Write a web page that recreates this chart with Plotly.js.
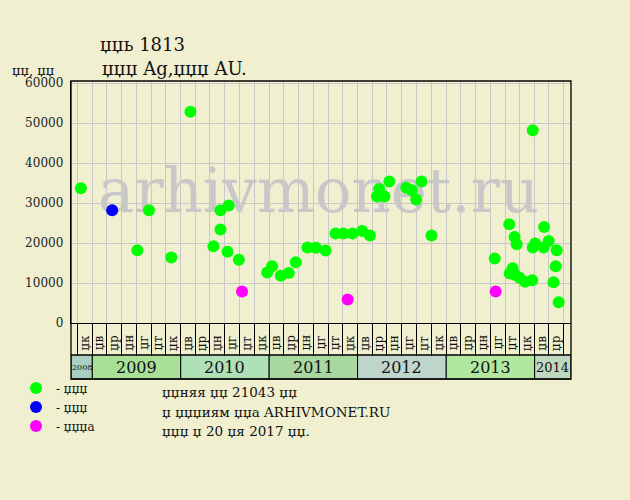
<!DOCTYPE html>
<html>
<head>
<meta charset="utf-8">
<script src="https://cdn.plot.ly/plotly-3.0.1.min.js"></script>
<style>
  html, body { margin: 0; padding: 0; background: #f0efd0; }
  #chart { width: 630px; height: 500px; }
</style>
</head>
<body>
<div id="chart"></div>
<script>
// ---------- data ----------
const titleLine1 = 'џџь 1813';
const titleLine2 = 'џџџ Ag,џџџ AU.';
const yUnit = 'џџ, џџ';
const seriesNames = ['- џџџ', '- џџџ', '- џџџа'];
const noteLines = ['џџняя џџ 21043 џџ', 'џ џџџиям џџа ARHIVMONET.RU', 'џџџ џ 20 џя 2017 џџ.'];
const watermark = 'arhivmonet.ru';

const greenDates = [
  '2008-11-15','2009-07-06','2009-08-23','2009-11-23','2010-02-10','2010-05-16',
  '2010-06-14','2010-06-14','2010-07-13','2010-07-18','2010-08-29','2010-12-24',
  '2011-01-13','2011-02-18','2011-03-23','2011-04-21','2011-06-08','2011-07-13',
  '2011-08-22','2011-10-02','2011-11-03','2011-12-11','2012-01-20','2012-02-21',
  '2012-03-21','2012-03-30','2012-04-21','2012-05-11','2012-07-20','2012-08-12',
  '2012-08-30','2012-09-21','2012-11-01','2013-07-20','2013-09-18','2013-09-20',
  '2013-10-02','2013-10-10','2013-10-13','2013-10-19','2013-10-31','2013-11-22',
  '2013-12-22','2013-12-24','2013-12-24','2014-01-03','2014-02-07','2014-02-09',
  '2014-02-28','2014-03-20','2014-03-29','2014-04-02','2014-04-10'
];
const greenValues = [
  33700,18200,28200,16400,52800,19200,
  28200,23400,17800,29400,15800,12600,
  14200,11800,12500,15200,18900,18800,
  18100,22400,22400,22400,23000,21900,
  31600,33500,31600,35400,33800,33200,
  30900,35400,21900,16100,24700,12400,
  13700,21500,12000,19700,11300,10300,
  10700,48200,18900,19900,18900,24000,
  20500,10200,14200,18200,5200
];
const blueDates = ['2009-03-24'];
const blueValues = [28200];
const magentaDates = ['2010-09-11','2011-11-21','2013-07-24'];
const magentaValues = [7900,5900,7900];

// bimonthly period labels (periods Jan-Feb, Mar-Apr, ..., Nov-Dec)
const periodLabels = ['џв','џр','џн','џг','џт','џк'];
const firstPeriodStart = '2008-11-01';
const lastPeriodStart = '2014-03-01';
const years = ['2008','2009','2010','2011','2012','2013','2014'];
const yearColors = ['#a8d0c0','#a8e098','#b0e0b8','#a8d8a0','#c0d6cc','#b0e8a0','#c0d8c0'];
const yearFontSizes = [8,16,16,16,16,16,13];
const yTicks = [0,10000,20000,30000,40000,50000,60000];

// ---------- layout helpers ----------
const xStart = '2008-10-05', xEnd = '2014-05-31';
const plotH = 242;
const labelRowBottom = -32 / plotH;
const yearRowBottom = -56 / plotH;
const serif = 'DejaVu Serif, serif';
const pyToPaper = py => (323 - py) / plotH;
const pxToPaper = px => (px - 71) / 500;
const iso = d => d.toISOString().slice(0,10);

const shapes = [];
const annotations = [];

// period labels in the label row
{
  let d = new Date(firstPeriodStart + 'T00:00:00Z');
  const last = new Date(lastPeriodStart + 'T00:00:00Z');
  while (d <= last) {
    const e = new Date(Date.UTC(d.getUTCFullYear(), d.getUTCMonth() + 2, 1));
    const mid = new Date((d.getTime() + e.getTime()) / 2);
    const label = periodLabels[Math.floor(d.getUTCMonth() / 2)];
    annotations.push({xref:'x', yref:'paper', x:iso(mid), y:pyToPaper(343),
      text:label, textangle:-90, showarrow:false, xanchor:'center', yanchor:'middle',
      font:{family:serif, size:12, color:'#111'}});
    d = e;
  }
}

years.forEach((yr, i) => {
  const x0 = i === 0 ? xStart : yr + '-01-01';
  const x1 = i === years.length - 1 ? xEnd : (Number(yr) + 1) + '-01-01';
  shapes.push({type:'rect', xref:'x', yref:'paper', x0:x0, x1:x1,
    y0:yearRowBottom, y1:labelRowBottom, fillcolor:yearColors[i],
    line:{color:'#000', width:1}, layer:'below'});
  const mid = new Date((new Date(x0).getTime() + new Date(x1).getTime()) / 2);
  annotations.push({xref:'x', yref:'paper', x:iso(mid),
    y:(labelRowBottom + yearRowBottom) / 2, text:yr, showarrow:false,
    xanchor:'center', yanchor:'middle',
    font:{family:serif, size:yearFontSizes[i], color:'#111'}});
});
// outer frame
shapes.push({type:'rect', xref:'paper', yref:'paper', x0:0, x1:1, y0:yearRowBottom, y1:1,
  line:{color:'#000', width:1.3}, fillcolor:'rgba(0,0,0,0)', layer:'above'});
shapes.push({type:'line', xref:'paper', yref:'paper', x0:0, x1:1, y0:labelRowBottom, y1:labelRowBottom,
  line:{color:'#000', width:1}});

annotations.push({xref:'paper', yref:'paper', x:pxToPaper(100), xanchor:'left', y:pyToPaper(69), yanchor:'middle',
  text:titleLine2, showarrow:false, font:{family:serif, size:18, color:'#111'}});
annotations.push({xref:'paper', yref:'paper', x:pxToPaper(10), xanchor:'left', y:pyToPaper(70), yanchor:'middle',
  text:yUnit, showarrow:false, font:{family:serif, size:13, color:'#111'}});
noteLines.forEach((t, i) => {
  const py = [392, 411.5, 431][i];
  annotations.push({xref:'paper', yref:'paper', x:pxToPaper(160), xanchor:'left',
    y:pyToPaper(py), yanchor:'middle', text:t, showarrow:false,
    font:{family:serif, size:13.5, color:'#111'}});
});

// ---------- traces ----------
const traces = [
  {x:['2011-07-24'], y:[31550], mode:'text', text:[watermark], textposition:'middle center',
   textfont:{family:serif, size:61, color:'#c8c8c8'}, hoverinfo:'skip', showlegend:false, cliponaxis:false},
  {x:greenDates, y:greenValues, mode:'markers', type:'scatter', name:seriesNames[0],
   marker:{color:'#00ff00', size:12}},
  {x:blueDates, y:blueValues, mode:'markers', type:'scatter', name:seriesNames[1],
   marker:{color:'#0000ff', size:12}},
  {x:magentaDates, y:magentaValues, mode:'markers', type:'scatter', name:seriesNames[2],
   marker:{color:'#ff00ff', size:12}}
];

const layout = {
  width:630, height:500,
  margin:{l:71, r:59, t:81, b:177},
  paper_bgcolor:'#f0efd0', plot_bgcolor:'#f0efd0',
  title:{text:titleLine1, x:100/630, xanchor:'left', xref:'container',
    y:1-45/500, yanchor:'middle', yref:'container',
    font:{family:serif, size:18, color:'#111'}},
  xaxis:{type:'date', range:[xStart, xEnd], dtick:'M2', tick0:'2008-11-01',
    showticklabels:false, ticks:'outside', ticklen:32, tickcolor:'#000', tickwidth:1,
    showgrid:true, gridcolor:'#c8c8c8', gridwidth:1,
    showline:true, linecolor:'#000', linewidth:1.3, zeroline:false, fixedrange:true},
  yaxis:{range:[0, 60500], tickvals:yTicks, ticktext:yTicks.map(String),
    showgrid:true, gridcolor:'#c8c8c8', gridwidth:1, zeroline:false,
    showline:true, linecolor:'#000', linewidth:1.3, ticks:'', ticklabelstandoff:4,
    tickfont:{family:serif, size:12, color:'#222'}, fixedrange:true},
  showlegend:true,
  legend:{x:pxToPaper(16), xanchor:'left', y:pyToPaper(373.5), yanchor:'top',
    bgcolor:'rgba(0,0,0,0)', font:{family:serif, size:12, color:'#111'},
    tracegroupgap:0},
  shapes:shapes,
  annotations:annotations
};

Plotly.newPlot('chart', traces, layout, {staticPlot:true, displayModeBar:false});
</script>
</body>
</html>
